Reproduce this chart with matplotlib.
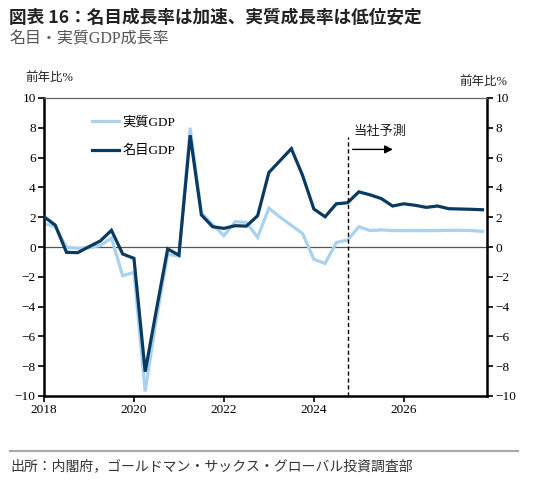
import matplotlib
matplotlib.use("Agg")
import matplotlib.pyplot as plt
import numpy as np

# ---- data (quarterly, 2018Q1 .. 2027Q4) ----
quarters = [2018 + 0.25 * i for i in range(40)]
nominal_gdp = [2.03, 1.47, -0.36, -0.38,
               0.02, 0.40, 1.12, -0.47,
               -0.76, -8.37, -4.20, -0.13,
               -0.55, 7.50, 2.15, 1.36,
               1.25, 1.43, 1.40, 2.10,
               5.00, 5.80, 6.60, 4.80,
               2.55, 2.03, 2.90, 2.97,
               3.70, 3.50, 3.25, 2.75,
               2.90, 2.80, 2.66, 2.75,
               2.57, 2.55, 2.53, 2.50]
real_gdp = [1.58, 1.36, 0.00, -0.10,
            -0.05, 0.10, 0.60, -1.93,
            -1.70, -9.70, -4.80, -0.50,
            -0.60, 8.00, 2.30, 1.50,
            0.76, 1.70, 1.65, 0.65,
            2.60, 2.00, 1.45, 0.90,
            -0.83, -1.10, 0.30, 0.47,
            1.36, 1.10, 1.15, 1.10,
            1.10, 1.10, 1.10, 1.10,
            1.12, 1.12, 1.10, 1.05]
forecast_start = 2024.75
year_ticks = [2018, 2020, 2022, 2024, 2026]
y_ticks = [-10, -8, -6, -4, -2, 0, 2, 4, 6, 8, 10]

DARK = "#0b3a60"
LIGHT = "#a9d2ef"
SERIF = ["Liberation Serif", "Noto Sans CJK JP"]
CJK = ["Noto Sans CJK JP", "DejaVu Sans"]
MIX = ["Liberation Serif", "Noto Sans CJK JP"]

fig = plt.figure(figsize=(5.35, 4.83), dpi=100)
ax = fig.add_axes([44 / 535, 1 - 396 / 483, (487 - 44) / 535, (396 - 98) / 483])

ax.axhline(0, color="#555555", lw=0.9, zorder=1)
ax.plot(quarters, real_gdp, color=LIGHT, lw=2.3, label="実質GDP", zorder=2,
        solid_joinstyle="miter")
ax.plot(quarters, nominal_gdp, color=DARK, lw=2.3, label="名目GDP", zorder=3,
        solid_joinstyle="miter")

ax.set_xlim(2018, 2027.85)
ax.set_ylim(-10, 10)
ax.set_xticks(year_ticks)
ax.set_xticklabels([str(y) for y in year_ticks], family=SERIF, fontsize=9.5)
ax.set_yticks(y_ticks)
ax.set_yticklabels([str(v).replace("-", "\u2212") for v in y_ticks], family=SERIF, fontsize=9.5)
ax.tick_params(axis="both", direction="out", length=4, width=1.2, colors="black", pad=2)
ax.tick_params(axis="y", labelright=True, right=True)

for s in ["left", "right", "bottom"]:
    ax.spines[s].set_linewidth(1.8)
    ax.spines[s].set_color("black")
ax.spines["top"].set_linewidth(0.9)
ax.spines["top"].set_color("#666666")

# forecast marker
ax.plot([forecast_start, forecast_start], [-10, 7.4], color="black", lw=1.0,
        ls=(0, (3, 2)), zorder=4)
ax.text(forecast_start + 0.14, 7.75, "当社予測", family=CJK, fontsize=9.5,
        va="center", ha="left", color="#222222")
ax.annotate("", xy=(2025.82, 6.55), xytext=(forecast_start + 0.05, 6.55),
            arrowprops=dict(arrowstyle="-|>", color="black", lw=1.0,
                            mutation_scale=12))

leg = ax.legend(loc="upper left", bbox_to_anchor=(0.097, 0.955), frameon=False,
                prop={"family": MIX, "size": 9.5}, handlelength=2.0,
                labelspacing=1.2, handletextpad=0.3, borderaxespad=0)

# unit labels
fig.text(25 / 535, 1 - 78 / 483, "前年比%", family=MIX, fontsize=9, va="center",
         ha="left", color="#222222")
fig.text(507 / 535, 1 - 82 / 483, "前年比%", family=MIX, fontsize=9, va="center",
         ha="right", color="#222222")

# titles
fig.text(9 / 535, 1 - 18 / 483, "図表 16：名目成長率は加速、実質成長率は低位安定",
         family=CJK, fontsize=12.7, fontweight="bold", va="center", ha="left",
         color="#222222")
fig.text(9 / 535, 1 - 40 / 483, "名目・実質GDP成長率", family=MIX, fontsize=11.5,
         va="center", ha="left", color="#555555")

# footer
fig.add_artist(plt.Line2D([10 / 535, 518 / 535], [1 - 451 / 483, 1 - 451 / 483],
                          color="#aaaaaa", lw=1.6))
fig.text(10 / 535, 1 - 466 / 483, "出所：内閣府，ゴールドマン・サックス・グローバル投資調査部",
         family=CJK, fontsize=10, va="center", ha="left", color="#333333")

fig.savefig("out.png", dpi=100)
